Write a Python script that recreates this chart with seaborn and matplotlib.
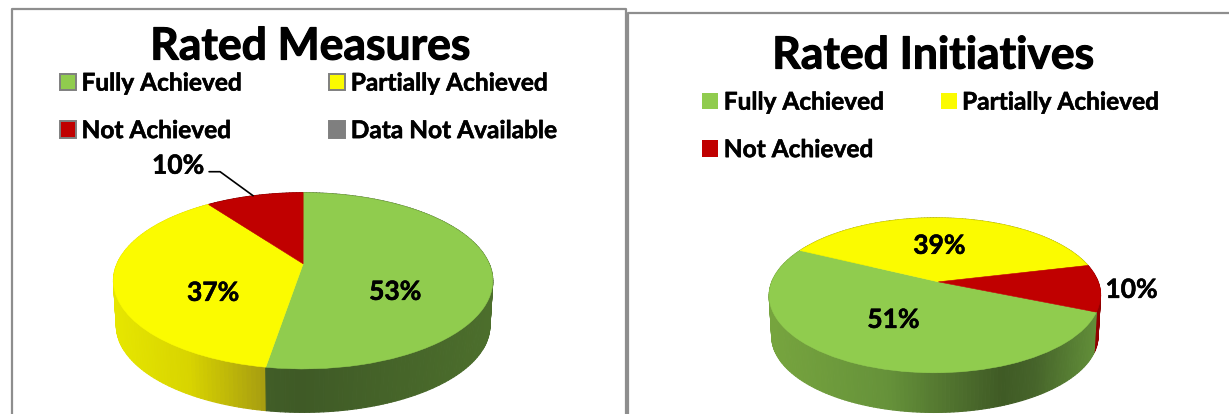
import numpy as np
import matplotlib
matplotlib.use("Agg")
import matplotlib.pyplot as plt
import matplotlib.patheffects as pe
import seaborn as sns
from matplotlib.collections import PolyCollection
from matplotlib.patches import Patch
from matplotlib.transforms import Transform

# ---- data ----
measure_labels = ["Fully Achieved", "Partially Achieved", "Not Achieved"]
measure_values = [52.6, 37.4, 10]
initiative_labels = ["Fully Achieved", "Partially Achieved", "Not Achieved"]
initiative_values = [51, 39, 10]
extra_legend_label = "Data Not Available"
title_left = "Rated Measures"
title_right = "Rated Initiatives"

# ---- style ----
sns.set_theme(style="white")
plt.rcParams["font.family"] = ["Lato", "DejaVu Sans"]
plt.rcParams["font.weight"] = "bold"
GREEN, YELLOW, RED, GREY = "#90CC4E", "#FBFB00", "#C00000", "#7F7F7F"
slice_colors = sns.color_palette([GREEN, YELLOW, RED])
FRAME = "#8E8E8E"
HEAVY = [pe.withStroke(linewidth=0.4, foreground="black")]


class Perspective(Transform):
    """Tilted-disc view of the unit pie, in pixel-sized data units."""
    input_dims = output_dims = 2
    is_separable = False
    has_inverse = False

    def __init__(self, cx, cy, a, b, k, m=0.0, drop=0.0, shrink=1.0):
        super().__init__()
        self.p = (cx, cy, a, b, k, m, drop, shrink)

    def transform_non_affine(self, values):
        cx, cy, a, b, k, m, drop, shrink = self.p
        v = np.asarray(values, float)
        w = 1 + k * v[:, 1] + m * v[:, 0]
        return np.column_stack([cx + shrink * a * v[:, 0] / w,
                                cy + drop - shrink * b * v[:, 1] / w])


def side_color(t, stops):
    ts, cols = stops
    cols = np.array([matplotlib.colors.to_rgb(c) for c in cols])
    return [np.interp(t, ts, cols[:, i]) for i in range(3)]


def draw_pie(ax, values, start, geom, depth, shades):
    proj = Perspective(*geom)
    low = Perspective(*geom, drop=depth, shrink=0.985)
    cx, a = geom[0], geom[2]
    polys, cols, keys = [], [], []
    ang = start
    for val, stops in zip(values, shades):
        end = ang - val * 3.6
        th = np.radians(np.linspace(ang, end, max(int(val * 3), 8)))
        xy = np.column_stack([np.cos(th), np.sin(th)])
        top = proj.transform_non_affine(xy)
        bot = low.transform_non_affine(xy)
        for i in range(len(th) - 1):
            polys.append([top[i], top[i + 1], bot[i + 1], bot[i]])
            cols.append(side_color((top[i, 0] - cx) / a, stops))
            keys.append(top[i, 1])
        ang = end
    order = np.argsort(keys)
    ax.add_collection(PolyCollection([polys[i] for i in order],
                                     facecolors=[cols[i] for i in order],
                                     edgecolors=[cols[i] for i in order],
                                     linewidths=0.8, zorder=1))
    wedges, _, autos = ax.pie(values, colors=slice_colors, startangle=start,
                              counterclock=False, autopct="%1.0f%%",
                              wedgeprops=dict(linewidth=0.4))
    for w in wedges:
        w.set_edgecolor(w.get_facecolor())
        w.set_transform(proj + ax.transData)
        w.set_zorder(2)
    return autos


fig = plt.figure(figsize=(12.295, 4.145), dpi=100, facecolor="white")
ax = fig.add_axes([0, 0, 1, 1])

left_shades = [
    ([-1, 0, 1], ["#4A6B2C", "#3F5A26", "#4C6E2C"]),
    ([-1, -0.6, -0.2], ["#E6E600", "#D8D400", "#A89E10"]),
    ([-1, 1], ["#700000", "#700000"]),
]
right_shades = [
    ([-1, -0.3, 0.4, 0.6, 1], ["#76A43E", "#66923A", "#3F5A25", "#46642A", "#64923A"]),
    ([-1, 1], ["#A0A000", "#A0A000"]),
    ([-1, 1], ["#900000", "#900000"]),
]

autos_l = draw_pie(ax, measure_values, 90, (303, 264, 186, 84.7, 0.193), 45, left_shades)
autos_r = draw_pie(ax, initiative_values, -22.6, (938, 282, 163, 75, 0.174, 0.021), 41, right_shades)

ax.set_aspect("auto")
ax.set_xlim(0, 1229)
ax.set_ylim(414, 0)
ax.axis("off")

TXT = "#000000"
for autos, places in ((autos_l, [(395, 292), (213, 293), (178, 166)]),
                      (autos_r, [(893, 320), (939, 246), (1131, 290)])):
    for t, pos in zip(autos, places):
        t.set_position(pos)
        t.set(fontsize=19, fontweight="bold", color=TXT, ha="center", va="center",
              zorder=5, path_effects=HEAVY)

# leader line for the outside label
ax.plot([209, 220, 253], [172, 172, 196], color="black", lw=1.2, zorder=4)

# panel frames
ax.plot([12, 12, 626, 626], [414, 9, 9, 414], color=FRAME, lw=1.6, zorder=0)
ax.plot([628, 628, 1229], [414, 13, 13], color=FRAME, lw=1.6, zorder=0)

# titles
ax.text(310.5, 47, title_left, fontsize=32, fontweight="bold", color=TXT, ha="center",
        va="center", path_effects=[pe.withStroke(linewidth=0.8, foreground="black")])
ax.text(933, 56, title_right, fontsize=32, fontweight="bold", color=TXT, ha="center",
        va="center", path_effects=[pe.withStroke(linewidth=0.8, foreground="black")])

# legends
LEG_FS = 17.6
px = LEG_FS * 100 / 72


def legend(handles, labels, anchor, colgap):
    leg = ax.legend(handles, labels, ncols=2, loc="upper left", bbox_to_anchor=anchor,
                    bbox_transform=ax.transData, frameon=False,
                    handlelength=16 / px, handleheight=16 / px, handletextpad=5.5 / px,
                    columnspacing=colgap / px, labelspacing=24.5 / px,
                    borderpad=0, borderaxespad=0,
                    prop=dict(family="Lato", weight="bold", size=LEG_FS))
    for text in leg.get_texts():
        text.set_color(TXT)
        text.set_path_effects(HEAVY)
    return leg


hl = [Patch(facecolor=c, edgecolor=GREY, linewidth=1.4) for c in (GREEN, RED, YELLOW, GREY)]
lab_l = [measure_labels[0], measure_labels[2], measure_labels[1], extra_legend_label]
ax.add_artist(legend(hl, lab_l, (60, 72), 88))

hr = [Patch(facecolor=c, edgecolor="none") for c in (GREEN, RED, YELLOW)]
lab_r = [initiative_labels[0], initiative_labels[2], initiative_labels[1]]
legend(hr, lab_r, (702, 91), 57)

fig.savefig("out.png", dpi=100, facecolor="white")
